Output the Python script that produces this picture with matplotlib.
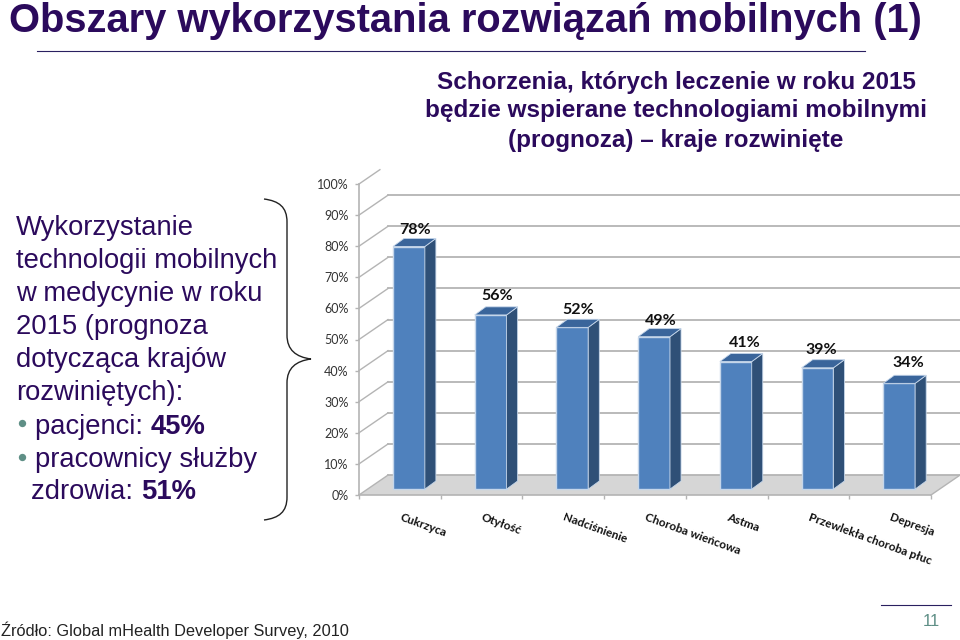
"""
plot.py - slide with a fake-3D column chart drawn on a normal axes
"""

import matplotlib
matplotlib.use('Agg')
import matplotlib.pyplot as plt
from matplotlib.patches import Polygon, PathPatch
from matplotlib.path import Path

categories = ['Cukrzyca', 'Otyłość', 'Nadciśnienie', 'Choroba wieńcowa',
              'Astma', 'Przewlekła choroba płuc', 'Depresja']
values = [78, 56, 52, 49, 41, 39, 34]
y_ticks = [0, 10, 20, 30, 40, 50, 60, 70, 80, 90, 100]

title = 'Obszary wykorzystania rozwiązań mobilnych (1)'
chart_heading = ['Schorzenia, których leczenie w roku 2015',
                 'będzie wspierane technologiami mobilnymi',
                 '(prognoza) – kraje rozwinięte']
side_lines = ['Wykorzystanie', 'technologii mobilnych', 'w medycynie w roku',
              '2015 (prognoza', 'dotycząca krajów', 'rozwiniętych):']
source = 'Źródło: Global mHealth Developer Survey, 2010'
page_number = '11'

# small hand nudges for the value labels, in points
label_dx = [0, 0, 0, 0, 2, -1.5, 2]
label_dy = [0, 2, 1, 0, 1.5, 1.5, 3]

PURPLE = '#2b0a5c'
TEAL = '#5f8f86'
GRID = '#b4b4b4'
FRONT = '#4f81bd'
SIDE = '#2f5077'
TOP = '#3a659b'
EDGE = '#c5d6ea'

W, H = 960, 640
fig = plt.figure(figsize=(W / 100, H / 100), dpi=100, facecolor='white')

# overlay in pixel coordinates for the slide text and decoration
page = fig.add_axes([0, 0, 1, 1])
page.set_xlim(0, W)
page.set_ylim(H, 0)
page.axis('off')

# chart axes: x in category widths, y in percent
left, right, bottom, top = 359, 931, 495, 184
ax = fig.add_axes([left / W, 1 - bottom / H, (right - left) / W, (bottom - top) / H])
ax.set_facecolor('none')
ax.set_xlim(0, len(categories))
ax.set_ylim(0, 100)

# depth of the back wall and of each bar, in data units
wall_dx, wall_dy = 0.355, 6.4
bar_dx, bar_dy = 0.135, 2.6
bar_base = 1.9
bar_width = 0.39
bar_inset = 0.416
n = len(categories)

# floor and back wall
ax.add_patch(Polygon([(0, 0), (n, 0), (n + wall_dx, wall_dy), (wall_dx, wall_dy)],
                     closed=True, facecolor='#d6d6d6', edgecolor='none', clip_on=False))
for t in y_ticks[:-1]:
    ax.plot([wall_dx, n + wall_dx], [t + wall_dy, t + wall_dy], color=GRID, lw=1.3,
            clip_on=False, zorder=1)
for t in y_ticks[:-1]:
    ax.plot([0, wall_dx], [t, t + wall_dy], color=GRID, lw=1.0, clip_on=False, zorder=1)
ax.plot([0, wall_dx * 0.72], [100, 100 + wall_dy * 0.72], color=GRID, lw=1.0,
        clip_on=False, zorder=1)
ax.plot([n, n + wall_dx], [0, wall_dy], color=GRID, lw=1.0, clip_on=False, zorder=1)

# bars
for i, v in enumerate(values):
    x0 = i + bar_inset
    x1 = x0 + bar_width
    y1 = bar_base + v
    ax.bar(x0, v, width=bar_width, bottom=bar_base, align='edge', color=FRONT,
           edgecolor=EDGE, linewidth=1.0, zorder=3)
    ax.add_patch(Polygon([(x1, bar_base), (x1 + bar_dx, bar_base + bar_dy),
                          (x1 + bar_dx, y1 + bar_dy), (x1, y1)], closed=True,
                         facecolor=SIDE, edgecolor=EDGE, linewidth=0.6, zorder=3))
    ax.add_patch(Polygon([(x0, y1), (x1, y1), (x1 + bar_dx, y1 + bar_dy),
                          (x0 + bar_dx, y1 + bar_dy)], closed=True,
                         facecolor=TOP, edgecolor=EDGE, linewidth=0.6, zorder=3))
    ax.annotate(f'{v}%', (i + 0.5, y1),
                xytext=(11 + label_dx[i], 6.5 + label_dy[i]), textcoords='offset points',
                ha='center', va='bottom', family='Lato', fontweight='bold',
                fontsize=11.5, color='#111111', zorder=4)
    ax.annotate(categories[i], (i + 0.5, 0), xytext=(1.5, -12), textcoords='offset points',
                ha='left', va='top', rotation=-20, rotation_mode='anchor',
                family='Lato', fontweight='bold', fontsize=8.5, color='#111111')

for s in ['top', 'right']:
    ax.spines[s].set_visible(False)
for s in ['left', 'bottom']:
    ax.spines[s].set_color(GRID)
    ax.spines[s].set_linewidth(1.2)
ax.set_yticks(y_ticks)
ax.set_yticklabels([f'{t}%' for t in y_ticks], family='Lato', fontsize=9, color='#333333')
ax.set_xticks(range(n + 1))
ax.set_xticklabels([])
ax.tick_params(axis='both', color=GRID, length=3, width=1, pad=4.5)

# slide text
sans = 'Liberation Sans'
page.text(9, 21, title, family=sans, fontweight='bold', fontsize=28.7, color=PURPLE,
          ha='left', va='center')
page.plot([37, 865], [50.5, 50.5], color='#2a2060', lw=0.8)

for k, line in enumerate(chart_heading):
    page.text(676, 82 + k * 29, line, family=sans, fontweight='bold', fontsize=17.5,
              color=PURPLE, ha='center', va='center')

for k, line in enumerate(side_lines):
    page.text(16, 228 + k * 33, line, family=sans, fontsize=19.7, color=PURPLE,
              ha='left', va='center')

page.scatter([22, 22], [423, 457], s=28, color=TEAL, linewidths=0)
t = page.text(35, 427, 'pacjenci: ', family=sans, fontsize=19.7, color=PURPLE,
              ha='left', va='center')
page.annotate('45%', xy=(1, 0), xycoords=t, va='bottom', ha='left', family=sans,
              fontweight='bold', fontsize=19.7, color=PURPLE)
page.text(35, 460, 'pracownicy służby', family=sans, fontsize=19.7, color=PURPLE,
          ha='left', va='center')
t = page.text(31, 492, 'zdrowia: ', family=sans, fontsize=19.7, color=PURPLE,
              ha='left', va='center')
page.annotate('51%', xy=(1, 0), xycoords=t, va='bottom', ha='left', family=sans,
              fontweight='bold', fontsize=19.7, color=PURPLE)

# curly brace between text and chart
verts = [(264, 199), (279, 201), (287, 207), (287, 222),
         (287, 260), (287, 300), (287, 335),
         (287, 350), (296, 357), (311, 359),
         (296, 361), (287, 368), (287, 383),
         (287, 420), (287, 460), (287, 497),
         (287, 512), (279, 518), (264, 520)]
codes = [Path.MOVETO] + [Path.CURVE4] * 18
page.add_patch(PathPatch(Path(verts, codes), facecolor='none', edgecolor='#222222', lw=1.0))

page.text(1, 630, source, family=sans, fontsize=11.8, color='#222222', ha='left', va='center')
page.plot([881, 951], [605, 605], color='#2a2060', lw=0.8)
page.text(931, 621, page_number, family=sans, fontsize=12, color=TEAL, ha='center', va='center')

fig.savefig('out.png', dpi=100)
